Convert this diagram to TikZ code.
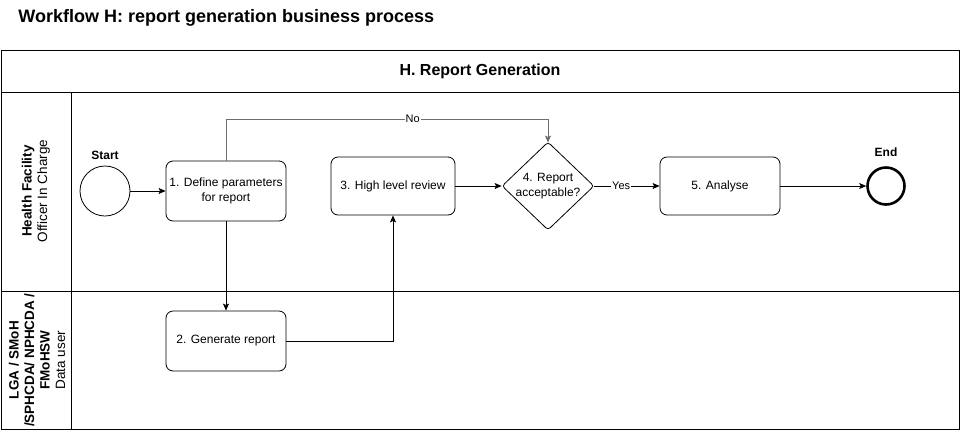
\documentclass[tikz,border=0pt]{standalone}
\usepackage{fontspec}
\setmainfont{Liberation Sans}
\usetikzlibrary{positioning, arrows.meta, calc, shapes.geometric}
\definecolor{nogray}{HTML}{6E6E6E}
\tikzset{
  workflow/.style={
	x=1pt, y=-1pt, % one unit is one pixel of the drawing, y runs down
	line width=0.8pt,
	>={Stealth[length=7pt, width=6pt, inset=1.5pt]}, % filled arrow heads
	font=\fontsize{12}{14.4}\selectfont, % text inside the tasks
  },
  task/.style={draw, rounded corners=7pt, minimum width=120pt, minimum height=60pt, align=center},
  gateway/.style={draw, diamond, rounded corners=3pt, minimum width=92pt, minimum height=88pt, inner sep=0pt},
  startevent/.style={draw, circle, minimum size=50pt, inner sep=0pt},
  endevent/.style={draw, circle, minimum size=37pt, inner sep=0pt, line width=2.6pt},
  eventlabel/.style={font=\fontsize{12}{14}\selectfont\bfseries},
  lanelabel/.style={rotate=90, align=center, font=\fontsize{13.5}{15.5}\selectfont},
  flowlabel/.style={fill=white, inner sep=1pt, font=\fontsize{11}{13}\selectfont},
}

\begin{document}
\begin{tikzpicture}[workflow]
	  \useasboundingbox (0,0) rectangle (961,432);

	  % pool and lanes
	  \draw (1,50) rectangle (959,429);
	  \draw (1,92) -- (959,92);
	  \draw (1,291) -- (959,291);
	  \draw (71,92) -- (71,429);

	  \node[anchor=base west, inner sep=0pt, font=\fontsize{18}{22}\selectfont\bfseries] (title) at (18,22) {Workflow H: report generation business process};
	  \node[font=\fontsize{16}{19}\selectfont\bfseries] (pool) at (480,71) {H. Report Generation};
	  \node[lanelabel] (facility) at (36,191) {\textbf{Health Facility}\\Officer In Charge};
	  \node[lanelabel] (datauser) at (37,360) {\textbf{LGA / SMoH}\\\textbf{/SPHCDA/ NPHCDA /}\\\textbf{FMoHSW}\\Data user};

	  % events, tasks and gateway
	  \node[startevent] (start) at (105,191) {};
	  \node[eventlabel, above=2pt of start] (startlabel) {Start};
	  \node[task] (define) at (226,191) {1. Define parameters\\for report};
	  \node[task] (generate) at (226,341) {2. Generate report};
	  \node[task, minimum width=124pt, minimum height=58pt] (review) at (393,186) {3. High level review};
	  \node[gateway] (accept) at (548,186) {};
	  \node[align=center] (accepttext) at (accept) {4. Report\\acceptable?};
	  \node[task, minimum height=58pt] (analyse) at (720,186) {5. Analyse};
	  \node[endevent] (end) at (886,186) {};
	  \node[eventlabel, above=6pt of end] (endlabel) {End};

	  % sequence flows
	  \coordinate (nocorner) at (548,119);
	  \draw[->] (start) -- (define);
	  \draw[->] (define) -- (generate);
	  \draw[->] (generate) -| (review);
	  \draw[->] (review) -- (accept);
	  \draw[->, draw=nogray, shorten >=-1pt] (define) |- node[flowlabel, pos=0.79, text=black] {No} (nocorner) -- (accept);
	  \draw[->] (accept) -- node[flowlabel, pos=0.41] {Yes} (analyse);
	  \draw[->] (analyse) -- (end);
\end{tikzpicture}
\end{document}
